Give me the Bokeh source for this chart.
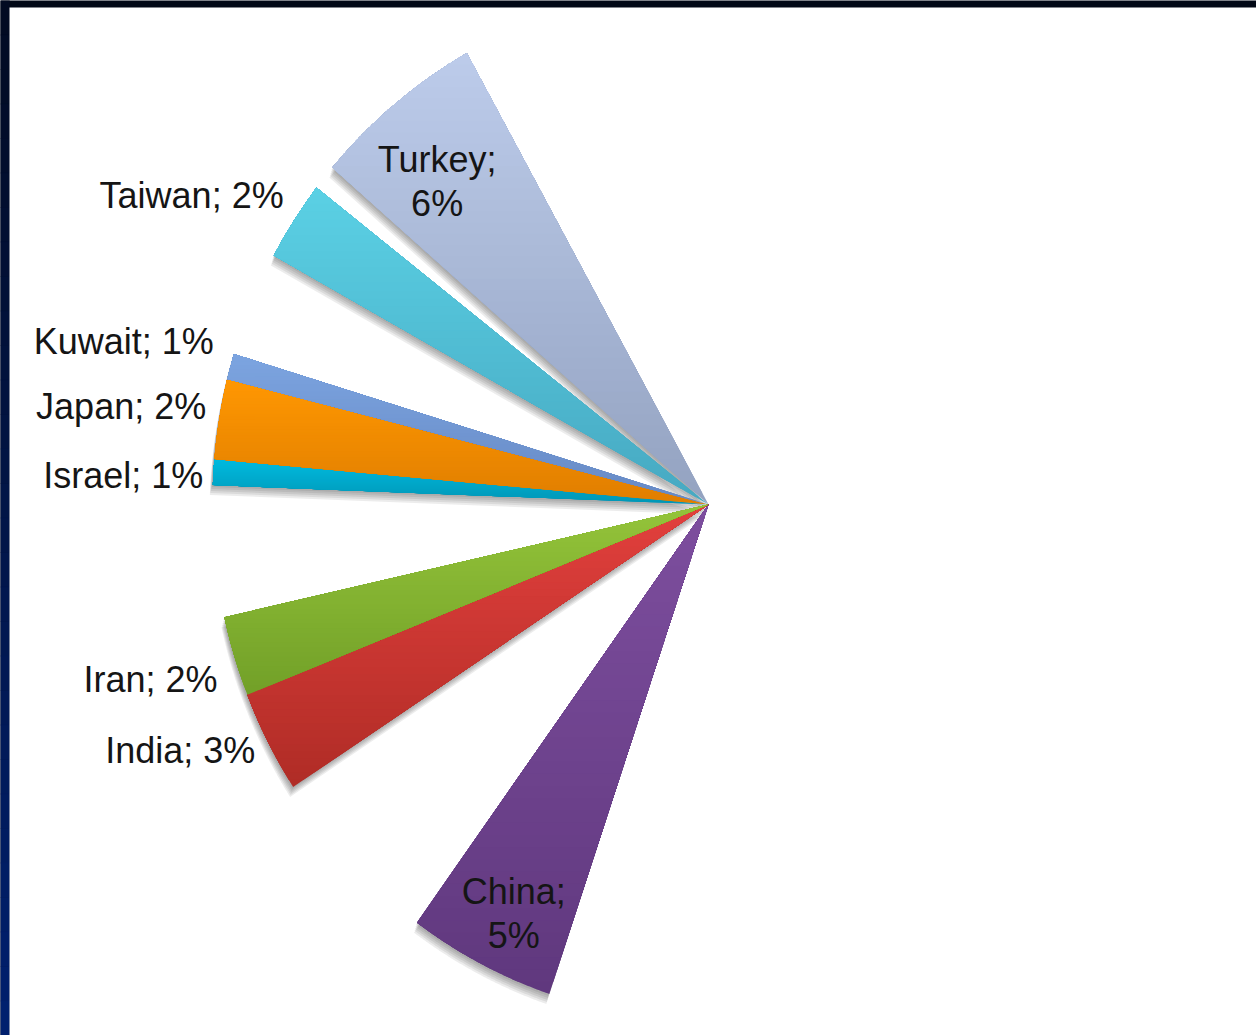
import numpy as np
from bokeh.plotting import figure
from bokeh.models import Range1d, ColumnDataSource
from bokeh.core.properties import value
from bokeh.embed import file_html
from bokeh.resources import INLINE

# ---------------- data ----------------
# Pie slices, clockwise from 12 o'clock. Empty names = slices drawn in white (not shown).
names = ["", "China", "", "India", "Iran", "", "Israel", "Japan", "Kuwait", "", "Taiwan", "", "Turkey", ""]
shares = [55.2, 4.8, 5.8, 3.2, 2.5, 4.1, 0.8, 2.5, 0.8, 3.3, 2.5, 0.8, 5.6, 8.1]
pct_labels = ["", "5%", "", "3%", "2%", "", "1%", "2%", "1%", "", "2%", "", "6%", ""]

# ---------------- style / layout ----------------
W, H = 1256, 1035
YS = 1.042                      # vertical stretch of the pie (px per y unit)
CX = 708.0                      # pie centre x (px)
CY = (H - 504.0) / YS           # pie centre y (data units)
R = 496.0                       # pie radius (data units)
START_DEG = 90.0
FRAME_LEFT, FRAME_TOP = 9, 7    # dark slide frame (px)

colors = {  # (top, bottom) of the vertical gradient
    "Turkey": ("#bccbea", "#94a3c1"),
    "Taiwan": ("#5ad0e4", "#47a9c2"),
    "Kuwait": ("#7ca4e0", "#6689c4"),
    "Japan":  ("#ff9702", "#e07e00"),
    "Israel": ("#00bade", "#0096b6"),
    "Iran":   ("#94c43a", "#72a028"),
    "India":  ("#e2403d", "#b02c26"),
    "China":  ("#7d4e9e", "#60387e"),
}
# label placement: (angle nudge in degrees, radius offset, inside?)
label_layout = {
    "Turkey": (1.96, -84, True),
    "Taiwan": (-1.6, 22, False),
    "Kuwait": (-2.1, 23, False),
    "Japan":  (-1.06, 15, False),
    "Israel": (0.45, 10, False),
    "Iran":   (1.8, 23, False),
    "India":  (0.14, 15, False),
    "China":  (0.96, -58, True),
}
LINE_GAP = 43.5  # px between the two lines of inside labels


def hex2rgb(h):
    h = h.lstrip("#")
    return np.array([int(h[i:i + 2], 16) for i in (0, 2, 4)], dtype=float)


def mix(c_a, c_b, t):
    a, b = hex2rgb(c_a), hex2rgb(c_b)
    c = a + (b - a) * t
    return "#%02x%02x%02x" % tuple(int(round(v)) for v in c)


def clip_above(xs, ys, t):
    ox, oy = [], []
    n = len(xs)
    for i in range(n):
        x1, y1 = xs[i], ys[i]
        x2, y2 = xs[(i + 1) % n], ys[(i + 1) % n]
        in1, in2 = y1 >= t, y2 >= t
        if in1:
            ox.append(x1)
            oy.append(y1)
        if in1 != in2:
            f = (t - y1) / (y2 - y1)
            ox.append(x1 + f * (x2 - x1))
            oy.append(t)
    return ox, oy


p = figure(width=W, height=H, output_backend="svg", toolbar_location=None,
           x_range=Range1d(0, W), y_range=Range1d(0, H / YS),
           min_border=0, outline_line_color=None,
           background_fill_color="#020816", border_fill_color="#020816")
p.axis.visible = False
p.grid.visible = False

# slide frame: dark navy strip on the left (gradient), white slide area
n_band = 30
band_top = [H / YS * (1 - i / n_band) for i in range(n_band)]
band_bot = [H / YS * (1 - (i + 1) / n_band) for i in range(n_band)]
band_col = [mix("#020a22", "#00206e", i / (n_band - 1)) for i in range(n_band)]
p.quad(left=0, right=FRAME_LEFT, top=band_top, bottom=band_bot,
       fill_color=band_col, line_color=band_col, line_width=0.5)
p.quad(left=FRAME_LEFT, right=W, top=(H - FRAME_TOP) / YS, bottom=0,
       fill_color="white", line_color=None)

total = float(sum(shares))
angles = []
a = START_DEG
for s in shares:
    a2 = a - s / total * 360.0
    angles.append((a, a2))
    a = a2

shadow = dict(xs=[], ys=[], alpha=[])
grad = dict(xs=[], ys=[], color=[])
lab = dict(x=[], y=[], text=[], align=[])

N_STEPS = 40
for name, pct, (a0, a1) in zip(names, pct_labels, angles):
    if not name:
        continue
    th = np.radians(np.linspace(a1, a0, 80))
    px = list(CX + R * np.cos(th)) + [CX]
    py = list(CY + R * np.sin(th)) + [CY]
    # soft drop shadow
    for dx, dy in [(-1, -2), (-1.5, -4), (-2, -6), (-2.5, -8), (-3, -10)]:
        shadow["xs"].append([x + dx for x in px])
        shadow["ys"].append([y + dy / YS for y in py])
        shadow["alpha"].append(0.075)
    # vertical gradient via nested clipped polygons
    top_c, bot_c = colors[name]
    ymin, ymax = min(py), max(py)
    for k in range(N_STEPS):
        t = ymin + (ymax - ymin) * k / N_STEPS
        cx_, cy_ = clip_above(px, py, t)
        if len(cx_) < 3:
            continue
        grad["xs"].append(cx_)
        grad["ys"].append(cy_)
        grad["color"].append(mix(bot_c, top_c, k / (N_STEPS - 1)))
    # label
    nudge, roff, inside = label_layout[name]
    mid = np.radians((a0 + a1) / 2.0 + nudge)
    rr = R + roff
    lx = CX + rr * np.cos(mid)
    ly = CY + rr * np.sin(mid)
    if inside:
        for line, off in ((name + ";", LINE_GAP / 2), (pct, -LINE_GAP / 2)):
            lab["x"].append(lx)
            lab["y"].append(ly + off / YS)
            lab["text"].append(line)
            lab["align"].append("center")
    else:
        lab["x"].append(lx)
        lab["y"].append(ly)
        lab["text"].append(name + "; " + pct)
        lab["align"].append("right")

p.patches("xs", "ys", source=ColumnDataSource(shadow), fill_color="black",
          fill_alpha="alpha", line_color=None)
p.patches("xs", "ys", source=ColumnDataSource(grad), fill_color="color",
          line_color=None)
p.text("x", "y", text="text", source=ColumnDataSource(lab), text_align="align",
       text_baseline="middle", text_font=value("Liberation Sans"),
       text_font_size="36px", text_color="#151515")

open("out.html", "w").write(file_html(p, INLINE))
